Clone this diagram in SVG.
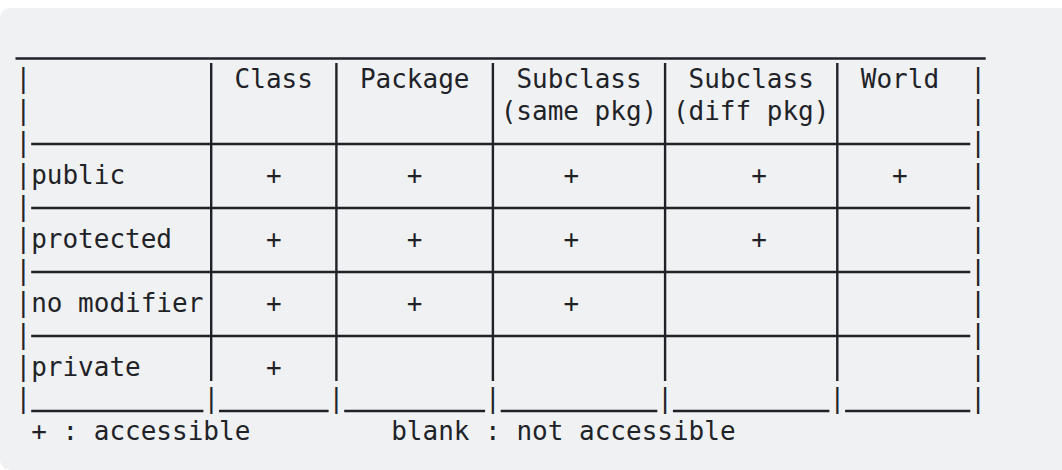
<svg xmlns="http://www.w3.org/2000/svg" width="1062" height="470" viewBox="0 0 1062 470">
<style>
text{font-family:"DejaVu Sans Mono","Liberation Mono",monospace;font-size:26px;fill:#1f2328;white-space:pre}
.ln{stroke:#1f2328;stroke-width:2.4;fill:none}
.us{stroke:#1f2328;stroke-width:2.6;fill:none}
</style>
<rect x="0" y="8" width="1100" height="462" rx="10" fill="#eff1f3"/>
<g id="grid-lines">
<line class="us" x1="15.5" y1="58.5" x2="985.7" y2="58.5"/>
<line class="ln" x1="31.2" y1="144" x2="970.3" y2="144"/>
<line class="ln" x1="31.2" y1="208" x2="970.3" y2="208"/>
<line class="ln" x1="31.2" y1="272" x2="970.3" y2="272"/>
<line class="ln" x1="31.2" y1="336" x2="970.3" y2="336"/>
<line class="ln" x1="211.2" y1="63" x2="211.2" y2="381"/>
<line class="ln" x1="336.4" y1="63" x2="336.4" y2="381"/>
<line class="ln" x1="492.9" y1="63" x2="492.9" y2="381"/>
<line class="ln" x1="665.1" y1="63" x2="665.1" y2="381"/>
<line class="ln" x1="837.3" y1="63" x2="837.3" y2="381"/>
<line class="us" x1="31.2" y1="411" x2="203.4" y2="411"/>
<line class="us" x1="219.0" y1="411" x2="328.6" y2="411"/>
<line class="us" x1="344.2" y1="411" x2="485.1" y2="411"/>
<line class="us" x1="500.7" y1="411" x2="657.3" y2="411"/>
<line class="us" x1="672.9" y1="411" x2="829.4" y2="411"/>
<line class="us" x1="845.1" y1="411" x2="970.3" y2="411"/>
</g>
<g id="frame">
<text x="15.5" y="87">|</text><text x="970.3" y="87">|</text>
<text x="15.5" y="119">|</text><text x="970.3" y="119">|</text>
<text x="15.5" y="151">|</text><text x="970.3" y="151">|</text>
<text x="15.5" y="183">|</text><text x="970.3" y="183">|</text>
<text x="15.5" y="215">|</text><text x="970.3" y="215">|</text>
<text x="15.5" y="247">|</text><text x="970.3" y="247">|</text>
<text x="15.5" y="279">|</text><text x="970.3" y="279">|</text>
<text x="15.5" y="311">|</text><text x="970.3" y="311">|</text>
<text x="15.5" y="343">|</text><text x="970.3" y="343">|</text>
<text x="15.5" y="375">|</text><text x="970.3" y="375">|</text>
<text x="15.5" y="407">|</text>
<text x="203.4" y="407">|</text>
<text x="328.6" y="407">|</text>
<text x="485.1" y="407">|</text>
<text x="657.3" y="407">|</text>
<text x="829.4" y="407">|</text>
<text x="970.3" y="407">|</text>
</g>
<g id="header">
<text x="234.6" y="88">Class</text>
<text x="359.9" y="88">Package</text>
<text x="516.4" y="88">Subclass</text>
<text x="500.7" y="120">(same pkg)</text>
<text x="688.6" y="88">Subclass</text>
<text x="672.9" y="120">(diff pkg)</text>
<text x="860.8" y="88">World</text>
</g>
<g id="row-public">
<text x="31.15" y="184">public</text>
<text x="265.95" y="184">+</text>
<text x="406.8" y="184">+</text>
<text x="563.4" y="184">+</text>
<text x="751.2" y="184">+</text>
<text x="892.1" y="184">+</text>
</g>
<g id="row-protected">
<text x="31.15" y="248">protected</text>
<text x="265.95" y="248">+</text>
<text x="406.8" y="248">+</text>
<text x="563.4" y="248">+</text>
<text x="751.2" y="248">+</text>
</g>
<g id="row-no-modifier">
<text x="31.15" y="312">no modifier</text>
<text x="265.95" y="312">+</text>
<text x="406.8" y="312">+</text>
<text x="563.4" y="312">+</text>
</g>
<g id="row-private">
<text x="31.15" y="376">private</text>
<text x="265.95" y="376">+</text>
</g>
<g id="legend">
<text x="31.15" y="440">+ : accessible</text>
<text x="391.2" y="440">blank : not accessible</text>
</g>
</svg>
